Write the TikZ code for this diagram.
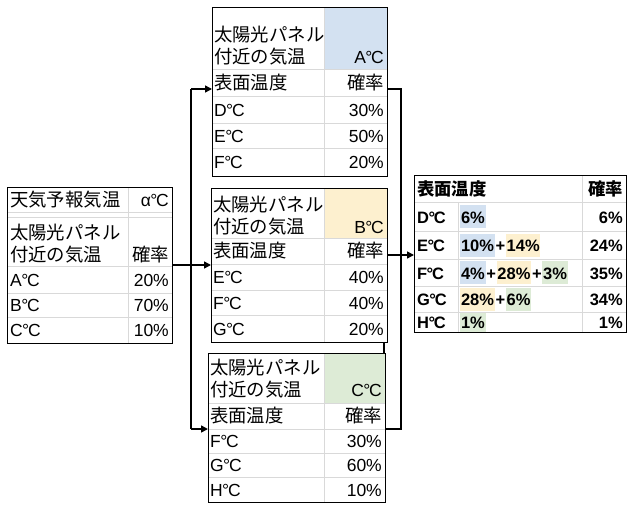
\documentclass[tikz,border=0pt]{standalone}
\usepackage{fontspec}
\setmainfont{Liberation Sans}
\newfontfamily\jp[Scale=1.05]{Noto Sans CJK JP}
\newcommand\dg{\kern-0.6pt°\kern-1.2pt}
\usetikzlibrary{arrows.meta}
\definecolor{gridc}{HTML}{D9D9D9}
\definecolor{hblue}{HTML}{D3E1F1}
\definecolor{horange}{HTML}{FDF0CF}
\definecolor{hgreen}{HTML}{DDEBD6}
\begin{document}
\begin{tikzpicture}[x=1pt,y=-1pt,
  every node/.style={inner sep=0pt, text height=15pt, text depth=2pt, font=\fontsize{17.5}{21}\selectfont},
  tbox/.style={draw=black, line width=1.2pt, anchor=north west, text height=, text depth=},
  gridline/.style={draw=gridc, line width=0.8pt},
  conn/.style={draw=black, line width=1.5pt},
  arr/.style={conn, -{Triangle[length=7pt,width=7pt]}},
  lt/.style={anchor=west},
  rt/.style={anchor=east},
  rfont/.style={font=\fontsize{16.5}{20}\selectfont\bfseries},
  hl/.style={fill=#1, minimum height=23pt, inner xsep=0.8pt, anchor=west, rfont},
  pl/.style={inner xsep=0.3pt, anchor=west, rfont}]
\useasboundingbox (0,0) rectangle (629,504);

% ---------- fills ----------
\fill[hblue] (324,7) rectangle (387,69);
\fill[horange] (324,188) rectangle (387,238);
\fill[hgreen] (324,353) rectangle (385,403);

% ---------- grid lines ----------
% T0
\foreach \yy in {212,217,266,293,317} \draw[gridline] (7,\yy) -- (172,\yy);
\draw[gridline] (128,187) -- (128,343);
% A
\foreach \yy in {69,96,123,148} \draw[gridline] (212,\yy) -- (387,\yy);
\draw[gridline] (324,7) -- (324,176);
% B
\foreach \yy in {238,264,290,315} \draw[gridline] (211,\yy) -- (387,\yy);
\draw[gridline] (324,188) -- (324,342);
% C
\foreach \yy in {403,429,453,477} \draw[gridline] (208,\yy) -- (385,\yy);
\draw[gridline] (324,353) -- (324,502);
% R
\foreach \yy in {202,231,259,286,312} \draw[gridline] (414,\yy) -- (626,\yy);
\draw[gridline] (458,202) -- (458,332);
\draw[gridline] (582,175) -- (582,332);

% ---------- highlights in result table ----------
\node[hl=hblue] (rd1) at (460,216.5) {6\%};
\node[hl=hblue] (re1) at (460,245) {10\%};
\node[pl] (re2) at (re1.east) {+};
\node[hl=horange] (re3) at (re2.east) {14\%};
\node[hl=hblue] (rf1) at (460,272.5) {4\%};
\node[pl] (rf2) at (rf1.east) {+};
\node[hl=horange] (rf3) at (rf2.east) {28\%};
\node[pl] (rf4) at (rf3.east) {+};
\node[hl=hgreen] (rf5) at (rf4.east) {3\%};
\node[hl=horange] (rg1) at (460,299) {28\%};
\node[pl] (rg2) at (rg1.east) {+};
\node[hl=hgreen] (rg3) at (rg2.east) {6\%};
\node[hl=hgreen, minimum height=19pt] (rh1) at (460,322) {1\%};

% ---------- table frames ----------
\node[tbox, minimum width=165pt, minimum height=156pt] (t0) at (7,187) {};
\node[tbox, minimum width=175pt, minimum height=169pt] (tA) at (212,7) {};
\node[tbox, minimum width=176pt, minimum height=154pt] (tB) at (211,188) {};
\node[tbox, minimum width=177pt, minimum height=149pt] (tC) at (208,353) {};
\node[tbox, minimum width=212pt, minimum height=157pt] (tR) at (414,175) {};
\draw[line width=1.2pt] (tB.south -| 384,0) -- (tC.north -| 384,0);

% ---------- T0 texts ----------
\node[lt] (t0a) at (10,200) {\jp 天気予報気温};
\node[rt] (t0b) at (169,200) {α\dg C};
\node[lt] (t0c) at (10,233) {\jp 太陽光パネル};
\node[lt] (t0d) at (10,255) {\jp 付近の気温};
\node[rt] (t0e) at (169,255) {\jp 確率};
\node[lt] (t0f) at (10,280) {A\dg C};
\node[rt] (t0g) at (169,280) {20\%};
\node[lt] (t0h) at (10,305) {B\dg C};
\node[rt] (t0i) at (169,305) {70\%};
\node[lt] (t0j) at (10,330) {C\dg C};
\node[rt] (t0k) at (169,330) {10\%};

% ---------- A texts ----------
\node[lt] (tAa) at (214,35) {\jp 太陽光パネル};
\node[lt] (tAb) at (214,57) {\jp 付近の気温};
\node[rt] (tAc) at (384,57) {A\dg C};
\node[lt] (tAd) at (214,83) {\jp 表面温度};
\node[rt] (tAe) at (384,83) {\jp 確率};
\node[lt] (tAf) at (214,109.5) {D\dg C};
\node[rt] (tAg) at (384,109.5) {30\%};
\node[lt] (tAh) at (214,135.5) {E\dg C};
\node[rt] (tAi) at (384,135.5) {50\%};
\node[lt] (tAj) at (214,162) {F\dg C};
\node[rt] (tAk) at (384,162) {20\%};

% ---------- B texts ----------
\node[lt] (tBa) at (213,205) {\jp 太陽光パネル};
\node[lt] (tBb) at (213,227) {\jp 付近の気温};
\node[rt] (tBc) at (384,227) {B\dg C};
\node[lt] (tBd) at (213,251) {\jp 表面温度};
\node[rt] (tBe) at (384,251) {\jp 確率};
\node[lt] (tBf) at (213,277) {E\dg C};
\node[rt] (tBg) at (384,277) {40\%};
\node[lt] (tBh) at (213,302.5) {F\dg C};
\node[rt] (tBi) at (384,302.5) {40\%};
\node[lt] (tBj) at (213,328.5) {G\dg C};
\node[rt] (tBk) at (384,328.5) {20\%};

% ---------- C texts ----------
\node[lt] (tCa) at (210,368) {\jp 太陽光パネル};
\node[lt] (tCb) at (210,390) {\jp 付近の気温};
\node[rt] (tCc) at (382,390) {C\dg C};
\node[lt] (tCd) at (210,416) {\jp 表面温度};
\node[rt] (tCe) at (382,416) {\jp 確率};
\node[lt] (tCf) at (210,441) {F\dg C};
\node[rt] (tCg) at (382,441) {30\%};
\node[lt] (tCh) at (210,465) {G\dg C};
\node[rt] (tCi) at (382,465) {60\%};
\node[lt] (tCj) at (210,489.5) {H\dg C};
\node[rt] (tCk) at (382,489.5) {10\%};

% ---------- result texts ----------
\node[lt, rfont] (tRa) at (417,189) {\jp\bfseries 表面温度};
\node[rt, rfont] (tRb) at (623,189) {\jp\bfseries 確率};
\node[lt, rfont] (tRc) at (417,216.5) {D\dg C};
\node[rt, rfont] (tRd) at (623,216.5) {6\%};
\node[lt, rfont] (tRe) at (417,245) {E\dg C};
\node[rt, rfont] (tRf) at (623,245) {24\%};
\node[lt, rfont] (tRg) at (417,272.5) {F\dg C};
\node[rt, rfont] (tRh) at (623,272.5) {35\%};
\node[lt, rfont] (tRi) at (417,299) {G\dg C};
\node[rt, rfont] (tRj) at (623,299) {34\%};
\node[lt, rfont] (tRk) at (417,322) {H\dg C};
\node[rt, rfont] (tRl) at (623,322) {1\%};

% ---------- connectors ----------
\coordinate (jTop) at (191,89);
\coordinate (jMid) at (191,265);
\coordinate (jBot) at (191,429);
\coordinate (kTop) at (401,89);
\coordinate (kBot) at (401,429);
\coordinate (kMid) at (401,255);
\draw[conn] (jTop) -- (jBot);
\draw[arr] (jTop) -- (tA.west |- jTop);
\draw[arr] (t0.east |- jMid) -- (tB.west |- jMid);
\draw[arr] (jBot) -- (tC.west |- jBot);
\draw[conn] (tA.east |- kTop) -- (kTop) -- (kBot) -- (tC.east |- kBot);
\draw[arr] (tB.east |- kMid) -- (tR.west |- kMid);
\end{tikzpicture}
\end{document}
